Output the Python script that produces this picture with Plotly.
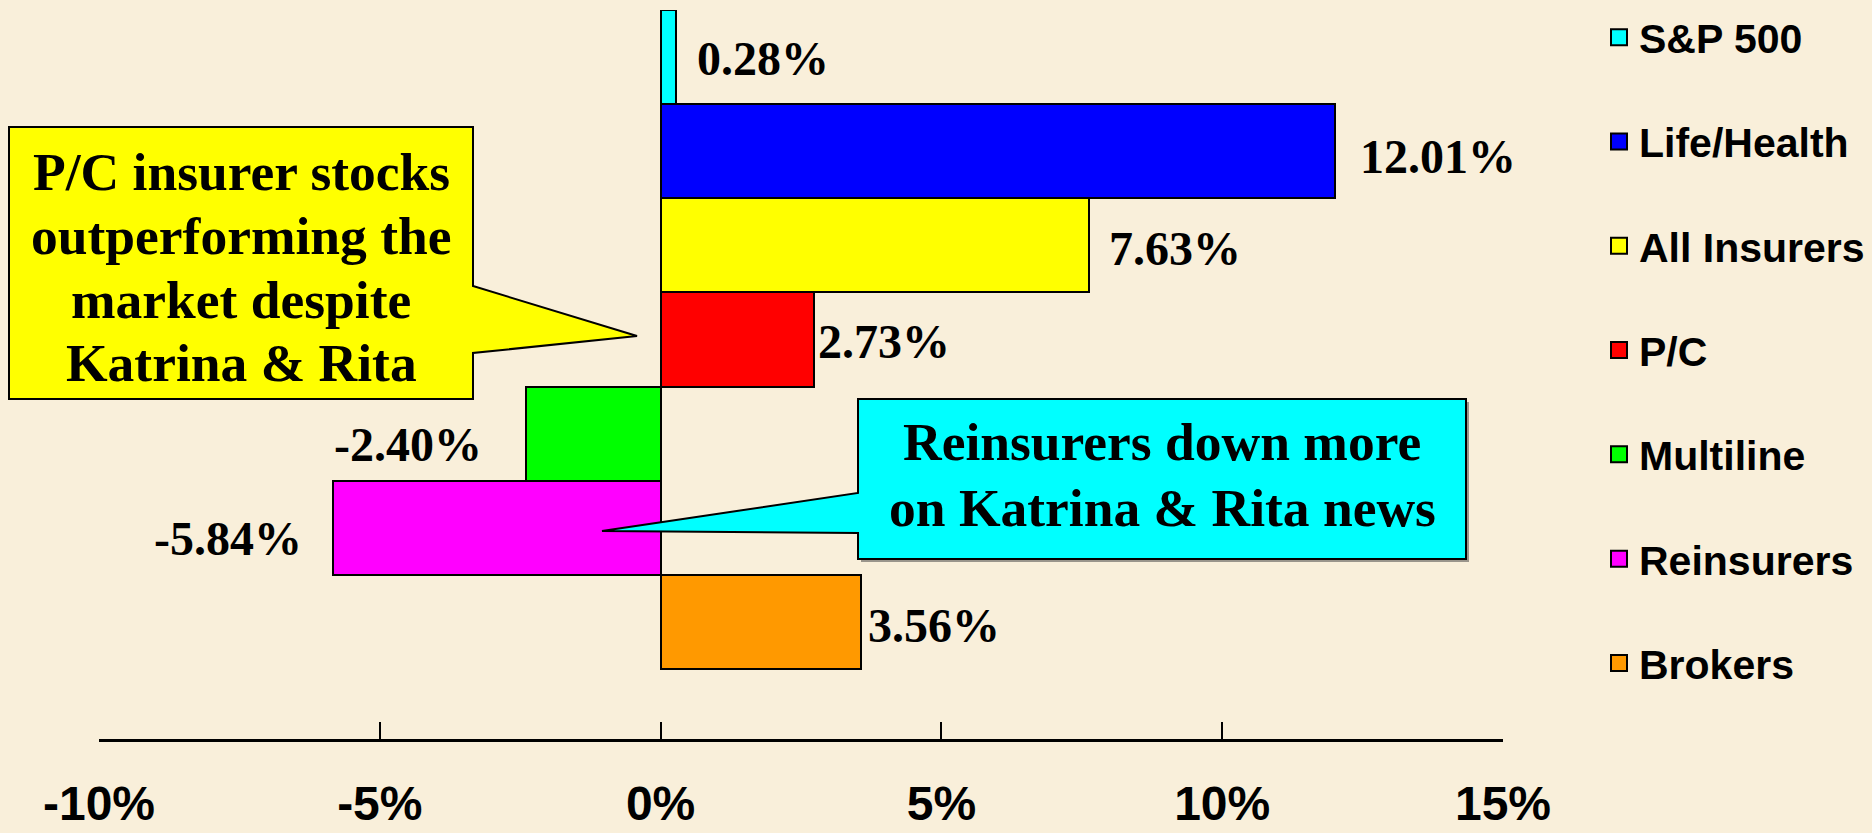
import plotly.graph_objects as go

# ---- data ----
categories = ["S&P 500", "Life/Health", "All Insurers", "P/C", "Multiline", "Reinsurers", "Brokers"]
returns_pct = [0.28, 12.01, 7.63, 2.73, -2.40, -5.84, 3.56]
bar_colors = ["#00FFFF", "#0000FF", "#FFFF00", "#FF0000", "#00FF00", "#FF00FF", "#FF9900"]
value_labels = ["0.28%", "12.01%", "7.63%", "2.73%", "-2.40%", "-5.84%", "3.56%"]
tick_vals = [-10, -5, 0, 5, 10, 15]
tick_labels = ["-10%", "-5%", "0%", "5%", "10%", "15%"]

callout_pc_lines = ["P/C insurer stocks", "outperforming the", "market despite", "Katrina & Rita"]
callout_re_lines = ["Reinsurers down more", "on Katrina & Rita news"]

# ---- layout geometry (pixels) ----
W, H = 1872, 833
ML, MR, MT, MB = 99, 369, 10, 94
PW = W - ML - MR
PH = H - MT - MB
BG = "#F9EFDA"

# per-label pixel nudges (style)
label_dx = [19, 23, 18, 2, -42, -29, 5]
label_dy = [-1, -5, -3, -2, -11, -11, -4]


def px(x):
    return (x - ML) / PW


def py(y):
    return (H - MB - y) / PH


def path_from(points):
    s = "M " + " L ".join(f"{px(x):.5f},{py(y):.5f}" for x, y in points) + " Z"
    return s


fig = go.Figure()

for cat, val, col in zip(categories, returns_pct, bar_colors):
    fig.add_trace(go.Bar(
        x=[val], y=[cat], orientation="h", width=1,
        marker=dict(color=col, line=dict(color="black", width=2)),
        name=cat, legendgroup=cat, showlegend=False,
        hovertemplate="%{y}: %{x:.2f}%<extra></extra>",
    ))

# legend entries
for cat, col in zip(categories, bar_colors):
    fig.add_trace(go.Scatter(
        x=[None], y=[None], mode="markers",
        marker=dict(symbol="square", size=25, color=col, line=dict(color="black", width=2)),
        name=cat, legendgroup=cat, showlegend=True,
    ))

annotations = []
serif = "Liberation Serif, Times New Roman, serif"
for cat, val, txt, dx, dy in zip(categories, returns_pct, value_labels, label_dx, label_dy):
    annotations.append(dict(
        x=val, y=cat, xref="x", yref="y", text=txt, showarrow=False,
        xanchor="left" if val >= 0 else "right", yanchor="middle",
        xshift=dx, yshift=dy,
        font=dict(family=serif, size=48, color="black", weight="bold"),
    ))

# callout shapes
pc_poly = [(9, 127), (473, 127), (473, 286), (637, 336), (473, 353), (473, 399), (9, 399)]
re_poly = [(858, 399), (1466, 399), (1466, 559), (858, 559), (858, 533), (602, 531), (858, 493)]
re_shadow = [(p[0] + 3, p[1] + 3) for p in [(858, 399), (1466, 399), (1466, 559), (858, 559)]]

shapes = [
    dict(type="path", path=path_from(re_shadow), xref="paper", yref="paper",
         fillcolor="rgba(60,60,60,0.5)", line=dict(width=0), layer="above"),
    dict(type="path", path=path_from(pc_poly), xref="paper", yref="paper",
         fillcolor="#FFFF00", line=dict(color="black", width=2), layer="above"),
    dict(type="path", path=path_from(re_poly), xref="paper", yref="paper",
         fillcolor="#00FFFF", line=dict(color="black", width=2), layer="above"),
]

pc_centers = [172, 236, 300, 363]
for line, cy in zip(callout_pc_lines, pc_centers):
    annotations.append(dict(
        x=px(241), y=py(cy), xref="paper", yref="paper", text=line, showarrow=False,
        xanchor="center", yanchor="middle",
        font=dict(family=serif, size=53.5, color="black", weight="bold"),
    ))
re_centers = [442, 508]
for line, cy in zip(callout_re_lines, re_centers):
    annotations.append(dict(
        x=px(1162), y=py(cy), xref="paper", yref="paper", text=line, showarrow=False,
        xanchor="center", yanchor="middle",
        font=dict(family=serif, size=53.5, color="black", weight="bold"),
    ))

fig.update_layout(
    width=W, height=H,
    margin=dict(l=ML, r=MR, t=MT, b=MB, pad=0, autoexpand=False),
    paper_bgcolor=BG, plot_bgcolor=BG,
    barmode="overlay", bargap=0,
    showlegend=True,
    legend=dict(
        x=px(1599), xanchor="left", y=py(4), yanchor="top",
        font=dict(family="Liberation Sans, Arial, sans-serif", size=41, color="black", weight="bold"),
        traceorder="grouped", tracegroupgap=48, bgcolor="rgba(0,0,0,0)",
        itemsizing="trace", maxheight=1.0,
    ),
    xaxis=dict(
        range=[-10, 15], tickvals=tick_vals, ticktext=tick_labels,
        showgrid=False, zeroline=False, showline=True, linecolor="black", linewidth=2.5,
        ticks="inside", ticklen=17, tickwidth=2, tickcolor="black",
        ticklabelstandoff=21, automargin=False,
        tickfont=dict(family="Liberation Sans Narrow, Arial Narrow, Liberation Sans, Arial", size=48,
                      color="black", weight="bold"),
        fixedrange=True,
    ),
    yaxis=dict(
        type="category", categoryorder="array", categoryarray=categories[::-1],
        range=[-1.245, 6.5], showgrid=False, zeroline=False, showline=False,
        showticklabels=False, ticks="", automargin=False, fixedrange=True,
    ),
    shapes=shapes,
    annotations=annotations,
)

fig.write_html(
    "out.html",
    config={"displayModeBar": False},
    post_script=(
        "document.body.style.margin='0';document.body.style.padding='0';"
        "document.body.style.overflow='hidden';"
        f"document.body.style.background='{BG}';"
        "document.documentElement.style.background='" + BG + "';"
    ),
)
